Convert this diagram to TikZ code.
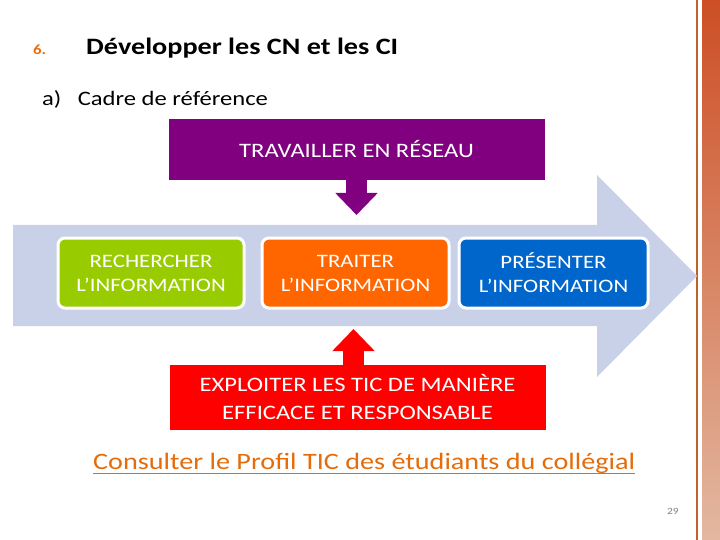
\documentclass[tikz,border=0pt]{standalone}
\usepackage{fontspec}
\setmainfont{Carlito}[FakeStretch=1.2]
\usetikzlibrary{arrows.meta,positioning}
\definecolor{flow}{HTML}{C9D1E9}
\definecolor{netpurple}{HTML}{800080}
\definecolor{seekgreen}{HTML}{99CC00}
\definecolor{treatorange}{HTML}{FF6600}
\definecolor{showblue}{HTML}{0066CC}
\definecolor{ticred}{HTML}{FF0000}
\definecolor{linkorange}{HTML}{E46C0A}
\definecolor{edgebrown}{HTML}{C0622E}

\begin{document}
\begin{tikzpicture}[x=1pt,y=-1pt,
  stage/.style={draw=white,line width=3pt,rounded corners=7pt,minimum height=70pt,
    text=white,align=center,font=\fontsize{19}{24}\selectfont},
  band/.style={minimum width=376pt,text=white,align=center,font=\fontsize{20.5}{28}\selectfont},
  txt/.style={inner sep=0pt,anchor=base west},
  blockarrow/.style={line width=21pt,-{Triangle[width=41pt,length=22pt]}}]
\useasboundingbox (0,0) rectangle (720,540);
% decorative edge
\draw[edgebrown,line width=1.5pt] (697,0)--(697,540);
\shade[top color=edgebrown!80!red,bottom color=edgebrown!45!white] (702,0) rectangle (720,540);
% headings
\node[txt,text=linkorange,font=\fontsize{14}{16}\selectfont\bfseries] (num) at (33,55) {6.};
\node[txt,font=\fontsize{23.5}{28}\selectfont\bfseries] (title) at (86,55) {Développer les CN et les CI};
\node[txt,font=\fontsize{20.5}{24}\selectfont] (sub) at (42,106) {a)\hspace{0.8em}Cadre de référence};
% big flow arrow
\fill[flow] (13,225)--(597,225)--(597,175)--(697,276)--(597,377)--(597,326)--(13,326)--cycle;
% three stages
\node[stage,fill=seekgreen,minimum width=186pt] (seek) at (151,273) {RECHERCHER\\L’INFORMATION};
\node[stage,fill=treatorange,minimum width=187pt] (treat) at (355.5,273) {TRAITER\\L’INFORMATION};
\node[stage,fill=showblue,minimum width=189pt] (show) at (553.5,273) {PRÉSENTER\\L’INFORMATION};
% top and bottom bands
\node[band,fill=netpurple,minimum height=61pt] (net) at (356.5,149.5) {TRAVAILLER EN RÉSEAU};
\node[band,fill=ticred,minimum height=65pt] (tic) at (357.5,397.5) {EXPLOITER LES TIC DE MANIÈRE\\EFFICACE ET RESPONSABLE};
\coordinate (netin) at (356.5,215);
\coordinate (ticin) at (353.5,329);
\draw[blockarrow,netpurple] (net.south) -- (netin);
\draw[blockarrow,ticred] (ticin |- tic.north) -- (ticin);
% link
\node[txt,text=linkorange,font=\fontsize{23.5}{28}\selectfont] (link) at (93,469) {Consulter le Profil TIC des étudiants du collégial};
\draw[linkorange,line width=1.8pt] ([yshift=-4.5pt]link.base west) -- ([yshift=-4.5pt]link.base east);
\node[txt,text=gray,font=\fontsize{9.5}{10}\selectfont] (page) at (667,514) {29};
\end{tikzpicture}
\end{document}
